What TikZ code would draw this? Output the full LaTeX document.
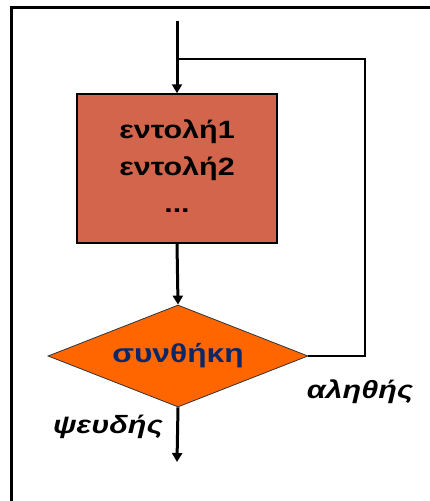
\documentclass[tikz,border=0pt]{standalone}
\usepackage{fontspec}
\setmainfont{Liberation Sans}
\newfontfamily\widefont[FakeStretch=1.22]{Liberation Sans}
\usetikzlibrary{shapes.geometric,arrows.meta}
\definecolor{boxfill}{RGB}{210,101,76}
\definecolor{diafill}{RGB}{255,102,0}
\definecolor{navy}{RGB}{10,40,105}
\tikzset{
  every picture/.style={x=1pt,y=-1pt},
  flowmain/.style={line width=3pt,-{Triangle[length=9pt,width=10pt]}},
  loopline/.style={line width=2pt},
  stmtbox/.style={draw=black,line width=1.5pt,fill=boxfill,minimum width=200pt,minimum height=149pt,inner sep=0pt,align=center,font=\widefont\fontsize{25}{37}\selectfont\bfseries},
  condbox/.style={diamond,draw=black!80,line width=0.8pt,fill=diafill,minimum width=260pt,minimum height=102pt,shape aspect=2.55,inner sep=0pt,text=navy,font=\widefont\fontsize{26}{30}\selectfont\bfseries},
  lbl/.style={font=\widefont\fontsize{25}{28}\selectfont\bfseries\itshape,inner sep=0pt}
}
\begin{document}
\begin{tikzpicture}
\useasboundingbox (0,0) rectangle (430,501);
\fill[white] (0,0) rectangle (430,501);
% frame
\draw[line width=2.2pt,black] (11.5,502) -- (11.5,7.5) -- (431,7.5);
\node[stmtbox] (b) at (177,168.5) {\raisebox{-4pt}{\begin{tabular}{@{}c@{}}εντολή1\\εντολή2\\...\end{tabular}}};
\node[condbox] (d) at (178,356) {συνθήκη};
\coordinate (s) at (177,21);
\coordinate (j) at (177,59);
\coordinate (r) at (365,59);
\coordinate (e) at (177,462);
\draw[flowmain] (s) -- (b.north);
\draw[loopline] (d.east) -| (r) -- (j);
\draw[flowmain] (b.south) -- (d.north);
\draw[flowmain] (d.south) -- (e);
\node[lbl] (f) at (108,427) {ψευδής};
\node[lbl] (t) at (360,392) {αληθής};
\end{tikzpicture}
\end{document}
